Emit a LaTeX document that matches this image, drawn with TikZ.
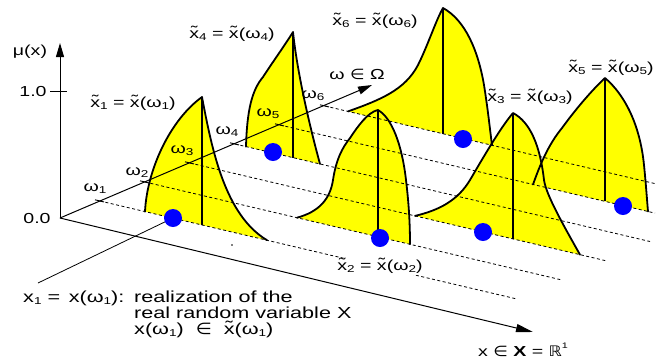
\documentclass[tikz,border=0pt]{standalone}
\usepackage{fontspec}
\setmainfont{Liberation Sans}[FakeStretch=1.35]
\newfontfamily\symf{DejaVu Sans}[FakeStretch=1.15]
\usepackage{graphicx}
\usetikzlibrary{arrows.meta}
\definecolor{fyel}{RGB}{255,255,0}
\definecolor{dblue}{RGB}{0,0,255}
\newcommand\xt{\ooalign{x\cr\hidewidth\raisebox{0.08em}{˜}\hidewidth\cr}}
\newcommand\sbs[1]{\raisebox{-0.3ex}{\fontsize{10}{10}\selectfont #1}}
\newcommand\inn{{\symf ∈}}
\begin{document}
\begin{tikzpicture}[x=1pt,y=-1pt,
  edge/.style={line width=1.8pt,line join=round,line cap=round},
  vline/.style={line width=1.1pt},
  dline/.style={line width=0.8pt,dash pattern=on 3pt off 2.5pt},
  axisl/.style={line width=1pt},
  dotn/.style={circle,fill=dblue,inner sep=0pt,minimum size=18pt},
  lab/.style={font=\fontsize{14.5}{17}\selectfont,inner sep=0pt,anchor=base},
  blab/.style={font=\fontsize{16}{18}\selectfont,inner sep=0pt,anchor=base west}]
\useasboundingbox (0,0) rectangle (664,360);
% coordinates
\coordinate (O) at (60,218);
\coordinate (mutop) at (60,43);
\coordinate (wtip) at (372,85);
\coordinate (xtip) at (533,332);
\coordinate (t1a) at (50,91);
\coordinate (t1b) at (67,91);
\coordinate (w1) at (100,201);
\coordinate (w2) at (145,182);
\coordinate (w3) at (190,163);
\coordinate (w4) at (235,144);
\coordinate (w5) at (280,125);
\coordinate (w6) at (325,106);
\coordinate (e1) at (517,299);
\coordinate (e2) at (562,280);
\coordinate (e3) at (607,261);
\coordinate (e4) at (650,241.5);
\coordinate (e5) at (655,213.1);
\coordinate (e6) at (655,183.6);
\coordinate (p1) at (202,97);   \coordinate (b1) at (202,225);
\coordinate (p2) at (378,110);  \coordinate (b2) at (378,236.8);
\coordinate (p3) at (513,113);  \coordinate (b3) at (513,238.9);
\coordinate (p4) at (293,32);   \coordinate (b4) at (293,157.6);
\coordinate (p5) at (605,78);   \coordinate (b5) at (605,201.4);
\coordinate (p6) at (443,8);    \coordinate (b6) at (443,133.7);
\coordinate (lead) at (38,283);
% shapes
\def\sA{(145,211.6) .. controls (147,170) and (170,120) .. (202,97) .. controls (212,150) and (225,215) .. (267,240.2)}
\def\sB{(297,217.7) .. controls (318,212) and (330,200) .. (333,180) .. controls (336,160) and (342,148) .. (350,138) .. controls (358,126) and (368,112) .. (378,110) .. controls (392,118) and (402,145) .. (406,180) .. controls (409,205) and (410,225) .. (410,244.3)}
\def\sC{(415,215.9) .. controls (440,210) and (458,200) .. (470,180) .. controls (480,163) and (500,128) .. (513,113) .. controls (530,122) and (540,145) .. (544,180) .. controls (546,195) and (565,228) .. (580,254.7)}
\def\sD{(246,146.6) .. controls (247,110) and (252,90) .. (263,77) .. controls (272,63) and (285,45) .. (293,32) .. controls (297,70) and (308,120) .. (320,164)}
\def\sE{(533,184.5) .. controls (540,165) and (548,145) .. (562,128) .. controls (575,110) and (592,90) .. (605,78) .. controls (625,95) and (640,125) .. (644,165) .. controls (646,185) and (647,200) .. (648,211.5)}
\def\sF{(348,111.4) .. controls (380,100) and (405,90) .. (418,65) .. controls (428,45) and (436,20) .. (443,8) .. controls (465,20) and (478,50) .. (484,85) .. controls (488,110) and (490,130) .. (492,145.2)}
% fills back to front
\fill[fyel] \sF -- cycle;
\fill[fyel] \sE -- cycle;
\fill[fyel] \sD -- cycle;
\fill[fyel] \sC -- cycle;
\fill[fyel] \sB -- cycle;
\fill[fyel] \sA -- cycle;
% dashed lines
\draw[dline] (w1) -- (e1);
\draw[dline] (w2) -- (e2);
\draw[dline] (w3) -- (e3);
\draw[dline] (w4) -- (e4);
\draw[dline] (w5) -- (e5);
\draw[dline] (w6) -- (e6);
% outlines
\draw[edge] \sF; \draw[vline] (b6) -- (p6);
\draw[edge] \sE; \draw[vline] (b5) -- (p5);
\draw[edge] \sD; \draw[vline] (b4) -- (p4);
\draw[edge] \sC; \draw[vline] (b3) -- (p3);
\draw[edge] \sB; \draw[vline] (b2) -- (p2);
\draw[edge] \sA; \draw[vline] (b1) -- (p1);
% axes
\draw[axisl,-{Triangle[length=14pt,width=8pt]}] (O) -- (mutop);
\draw[axisl,-{Triangle[length=14pt,width=8pt]}] (O) -- (wtip);
\draw[axisl,-{Triangle[length=17pt,width=8pt]}] (O) -- (xtip);
\draw[axisl] (t1a) -- (t1b);
\foreach \w in {w1,w2,w3,w4,w5,w6}{\draw[line width=0.9pt] (\w) ++(-5,-1.2) -- ++(9,2.1);}
\draw[line width=0.8pt] (lead) -- (173,218);
\fill (232,245) circle (0.9);
% dots
\node[dotn] (d1) at (173,218) {};
\node[dotn] (d2) at (380,238) {};
\node[dotn] (d3) at (483,232) {};
\node[dotn] (d4) at (273,152) {};
\node[dotn] (d5) at (623,206) {};
\node[dotn] (d6) at (463,139) {};
% texts
\node[lab] (mu) at (30,55) {μ(x)};
\node[lab] (one) at (33,96) {1.0};
\node[lab] (zero) at (37,223) {0.0};
\node[lab] (o1) at (95,191.5) {ω\sbs{1}};
\node[lab] (o2) at (137,175.5) {ω\sbs{2}};
\node[lab] (o3) at (182,153.5) {ω\sbs{3}};
\node[lab] (o4) at (227,134.5) {ω\sbs{4}};
\node[lab] (o5) at (268,116.5) {ω\sbs{5}};
\node[lab] (o6) at (313,98.5) {ω\sbs{6}};
\node[lab] (L1) at (133,107) {\xt\sbs{1} = \xt(ω\sbs{1})};
\node[lab] (L4) at (232,38) {\xt\sbs{4} = \xt(ω\sbs{4})};
\node[lab] (L6) at (375,25) {\xt\sbs{6} = \xt(ω\sbs{6})};
\node[lab] (L5) at (611,72) {\xt\sbs{5} = \xt(ω\sbs{5})};
\node[lab] (L3) at (530,101) {\xt\sbs{3} = \xt(ω\sbs{3})};
\node[lab,fill=white,inner sep=2pt] (L2) at (380,270) {\xt\sbs{2} = \xt(ω\sbs{2})};
\node[lab] (wom) at (357,79) {ω \inn\ Ω};
\node[lab] (xax) at (523,356) {x \inn\ \textbf{X} = {\symf ℝ}\raisebox{0.55em}{\fontsize{8}{8}\selectfont 1}};
\node[blab] (b1a) at (23,302) {x\sbs{1} = \,x(ω\sbs{1}):};
\node[blab] (b1b) at (134,302) {realization of the};
\node[blab] (b2t) at (134,318) {real random variable X};
\node[blab] (b3t) at (134,334) {x(ω\sbs{1})\ \ \inn\ \ \xt(ω\sbs{1})};
\end{tikzpicture}
\end{document}
